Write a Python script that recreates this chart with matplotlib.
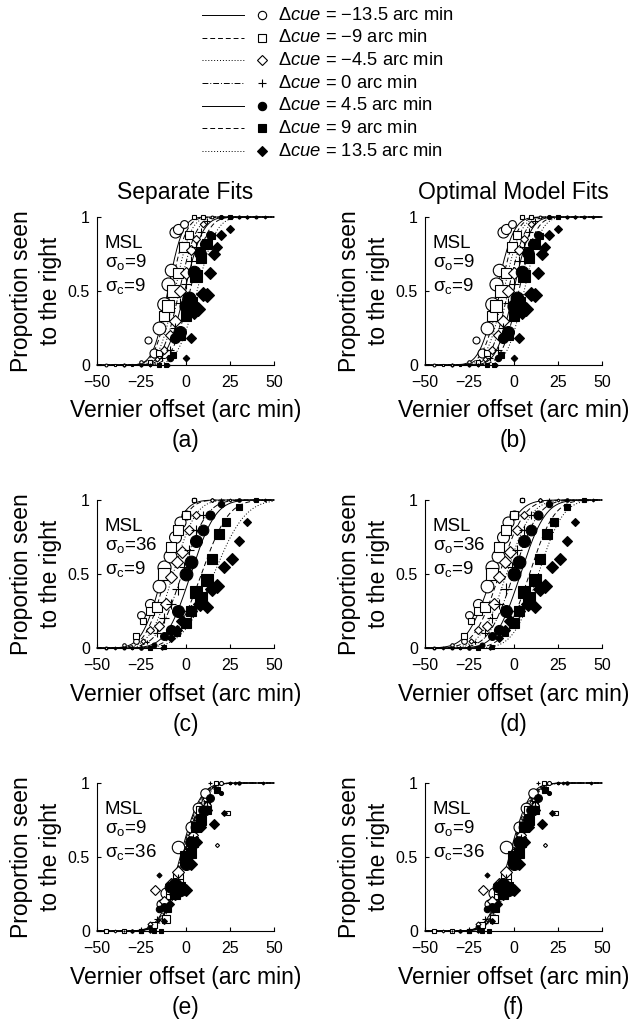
import math
import numpy as np
import matplotlib
matplotlib.use('Agg')
import matplotlib.pyplot as plt

plt.rcParams['font.family'] = ['Liberation Sans', 'DejaVu Sans']
plt.rcParams['mathtext.fontset'] = 'custom'
plt.rcParams['mathtext.rm'] = 'Liberation Sans'
plt.rcParams['mathtext.it'] = 'Liberation Sans:italic'
plt.rcParams['mathtext.default'] = 'regular'

# cue conflicts (arc min)
cues = [-13.5, -9, -4.5, 0, 4.5, 9, 13.5]
cue_txt = ['\u221213.5', '\u22129', '\u22124.5', '0', '4.5', '9', '13.5']

# ---- data, row 1 (sigma_o=9, sigma_c=9) ----
off1 = [
    [-45, -35, -25, -21, -18, -15, -12, -10, -8, -6, -4, -1, 5, 15],
    [-40, -30, -20, -15, -12, -10, -7, -4, -1, 2, 5, 10, 20],
    [-35, -25, -16, -12, -9, -6, -3, 0, 3, 6, 10, 20, 30],
    [-30, -20, -13, -9, -6, -3, 0, 3, 6, 9, 12, 20, 35],
    [-25, -15, -9, -6, -3, 0, 2, 5, 8, 11, 14, 20, 30, 40],
    [-20, -15, -11, -7, -3, 0, 3, 6, 9, 12, 15, 25, 35],
    [-10, 0, 3, 5, 7, 10, 12, 14, 16, 18, 20, 25, 35, 45],
]
prop1 = [
    [0, 0, 0.02, 0.17, 0.08, 0.25, 0.41, 0.55, 0.64, 0.9, 0.92, 0.95, 1, 1],
    [0, 0, 0.02, 0.08, 0.33, 0.4, 0.5, 0.62, 0.8, 0.88, 1, 1, 1],
    [0, 0, 0.04, 0.1, 0.2, 0.3, 0.5, 0.62, 0.78, 0.85, 0.95, 1, 1],
    [0, 0, 0.05, 0.1, 0.25, 0.42, 0.55, 0.7, 0.8, 0.9, 0.97, 1, 1],
    [0, 0, 0.05, 0.18, 0.22, 0.4, 0.45, 0.63, 0.76, 0.82, 0.88, 1, 1, 1],
    [0, 0, 0, 0.07, 0.2, 0.33, 0.42, 0.6, 0.72, 0.82, 0.87, 1, 1],
    [0, 0.05, 0.18, 0.35, 0.38, 0.48, 0.47, 0.62, 0.75, 0.8, 0.88, 0.92, 1, 1],
]
ntr1 = [
    [2, 2, 3, 12, 20, 40, 45, 42, 38, 30, 25, 15, 4, 2],
    [2, 2, 4, 12, 30, 38, 40, 35, 30, 20, 6, 3, 2],
    [2, 2, 6, 15, 25, 32, 35, 32, 25, 18, 10, 3, 2],
    [2, 3, 8, 15, 25, 30, 32, 30, 25, 18, 10, 4, 2],
    [2, 3, 10, 25, 35, 42, 40, 38, 32, 25, 15, 4, 2, 2],
    [2, 3, 5, 12, 25, 35, 40, 38, 32, 25, 15, 4, 2],
    [3, 10, 25, 35, 42, 45, 40, 38, 30, 28, 20, 12, 3, 2],
]

# ---- data, row 2 (sigma_o=36, sigma_c=9) ----
off2 = [
    [-45, -35, -28, -25, -20, -15, -12, -9, -6, -3, 0, 5, 15],
    [-45, -35, -28, -24, -20, -16, -12, -8, -4, 0, 5, 15],
    [-40, -30, -24, -20, -15, -11, -8, -5, -2, 2, 6, 15, 25],
    [-40, -30, -22, -16, -12, -8, -4, -1, 2, 6, 10, 20, 30],
    [-35, -25, -18, -12, -8, -4, 0, 3, 6, 10, 14, 20, 30, 40],
    [-30, -20, -12, -5, 0, 3, 6, 9, 12, 15, 19, 23, 30, 40],
    [-20, -13, -8, -5, -2, 3, 8, 12, 15, 18, 22, 26, 30, 35, 45],
]
prop2 = [
    [0, 0.02, 0.05, 0.22, 0.3, 0.42, 0.55, 0.62, 0.75, 0.85, 0.9, 1, 1],
    [0, 0, 0.08, 0.18, 0.25, 0.28, 0.5, 0.68, 0.8, 0.9, 1, 1],
    [0, 0, 0.05, 0.12, 0.15, 0.3, 0.48, 0.58, 0.65, 0.8, 0.9, 1, 1],
    [0, 0, 0.04, 0.1, 0.2, 0.3, 0.4, 0.55, 0.66, 0.8, 0.9, 1, 1],
    [0, 0, 0.02, 0.08, 0.12, 0.25, 0.5, 0.58, 0.72, 0.8, 0.9, 0.97, 1, 1],
    [0, 0, 0.01, 0.1, 0.17, 0.25, 0.38, 0.34, 0.46, 0.6, 0.77, 0.85, 0.95, 1],
    [0, 0, 0.07, 0.12, 0.18, 0.25, 0.3, 0.28, 0.4, 0.42, 0.55, 0.6, 0.72, 0.85, 1],
]
ntr2 = [
    [2, 3, 8, 15, 25, 40, 42, 40, 35, 30, 20, 5, 2],
    [2, 2, 8, 15, 22, 35, 38, 35, 30, 20, 5, 2],
    [2, 2, 6, 15, 28, 35, 38, 35, 30, 25, 15, 4, 2],
    [2, 2, 6, 15, 25, 32, 35, 32, 28, 22, 15, 4, 2],
    [2, 3, 6, 15, 25, 35, 40, 40, 35, 28, 20, 10, 3, 2],
    [2, 3, 6, 12, 25, 35, 40, 42, 40, 35, 30, 22, 10, 3],
    [2, 3, 15, 25, 35, 38, 40, 30, 42, 40, 38, 35, 25, 12, 2],
]

# ---- data, row 3 (sigma_o=9, sigma_c=36) ----
off3 = [
    [-45, -30, -20, -14, -11, -7, -4, 0, 3, 7, 11, 20, 30],
    [-45, -35, -25, -18, -11, -8, -4, 0, 4, 8, 12, 17, 24, 30],
    [-40, -30, -20, -17, -12, -8, -4, 0, 4, 8, 12, 18, 25],
    [-35, -25, -16, -12, -8, -4, 0, 4, 8, 12, 14, 25],
    [-30, -20, -15, -12, -9, -6, -3, 0, 3, 6, 10, 14, 20, 30],
    [-25, -18, -14, -10, -6, -3, 0, 3, 6, 9, 12, 18, 25],
    [-20, -15, -12, -9, -6, -3, 0, 3, 6, 9, 12, 16, 22, 28, 44],
]
prop3 = [
    [0, 0, 0.03, 0.18, 0.26, 0.3, 0.57, 0.5, 0.7, 0.83, 0.93, 1, 1],
    [0, 0, 0, 0.04, 0.08, 0.25, 0.35, 0.5, 0.6, 0.82, 0.85, 1, 0.8, 1],
    [0, 0, 0.05, 0.28, 0.2, 0.32, 0.4, 0.52, 0.65, 0.75, 0.85, 0.58, 1],
    [0, 0, 0.08, 0.15, 0.25, 0.35, 0.5, 0.62, 0.75, 0.88, 1, 1],
    [0, 0.03, 0.15, 0.16, 0.3, 0.32, 0.28, 0.45, 0.6, 0.7, 0.82, 0.9, 0.93, 1],
    [0, 0, 0, 0.15, 0.25, 0.3, 0.5, 0.53, 0.7, 0.75, 0.82, 0.95, 1],
    [0, 0.38, 0.07, 0.18, 0.25, 0.3, 0.28, 0.45, 0.6, 0.7, 0.82, 0.72, 0.8, 1, 1],
]
ntr3 = [
    [2, 2, 6, 20, 30, 35, 38, 35, 30, 28, 22, 4, 2],
    [3, 3, 3, 8, 18, 28, 32, 30, 28, 22, 15, 4, 6, 2],
    [2, 2, 6, 20, 25, 30, 32, 30, 28, 22, 15, 4, 2],
    [2, 2, 8, 15, 22, 28, 30, 28, 22, 15, 4, 2],
    [2, 3, 10, 15, 28, 35, 38, 35, 32, 28, 22, 15, 4, 2],
    [3, 3, 4, 10, 25, 35, 38, 35, 32, 28, 22, 10, 2],
    [3, 6, 8, 18, 30, 35, 38, 35, 30, 28, 25, 20, 8, 2, 2],
]

# fitted cumulative gaussians: means and sds per cue
mu_sep = [[-10, -8.5, -6, -3.5, -0.5, 2.5, 6.5],
          [-13, -11, -7, -2, 3, 9, 16],
          [-3, -1.5, -2, -2.5, -1, -1, 0]]
sd_sep = [[6.5, 7, 7, 7.5, 8, 8, 8.5],
          [9, 9, 10, 11, 11, 12, 14],
          [9, 9, 9, 9, 9, 9, 9]]
mu_opt = [[-9.5, -7.5, -5.5, -3, 0, 3, 6],
          [-12, -8, -4, 0, 4, 9, 14],
          [-2.5, -2, -1.5, -1, -0.5, 0, 0.5]]
sd_opt = [[7.5] * 7, [11] * 7, [9] * 7]

sig_o = ['9', '36', '9']
sig_c = ['9', '9', '36']
letters = [['(a)', '(b)'], ['(c)', '(d)'], ['(e)', '(f)']]

offs = [off1, off2, off3]
props = [prop1, prop2, prop3]
ntrs = [ntr1, ntr2, ntr3]

# styles
mk = ['o', 's', 'D', '+', 'o', 's', 'D']
fill = ['white', 'white', 'white', 'none', 'black', 'black', 'black']
ls = ['-', (0, (5, 3)), (0, (1, 2)), (0, (6, 2, 1, 2)), '-', (0, (5, 3)), (0, (1, 2))]
mscale = {'o': 1.45, 's': 1.3, 'D': 1.05, '+': 1.4}

W, H = 633, 1021
fig = plt.figure(figsize=(W / 100, H / 100), dpi=100)

col_left = [97, 425]
row_bot = [365, 648, 931]
aw, ah = 177, 148
fs_lab = 16.5

xx = np.linspace(-50, 50, 400)


def cdf(x, m, s):
    return np.array([0.5 * (1 + math.erf((v - m) / (s * math.sqrt(2)))) for v in x])


for r in range(3):
    for c in range(2):
        ax = fig.add_axes([col_left[c] / W, 1 - row_bot[r] / H, aw / W, ah / H])
        mus = mu_sep[r] if c == 0 else mu_opt[r]
        sds = sd_sep[r] if c == 0 else sd_opt[r]
        for k in range(7):
            ax.plot(xx, cdf(xx, mus[k], sds[k]), color='black', lw=0.7,
                    linestyle=ls[k], zorder=2, clip_on=False)
        for k in range(7):
            for x, p, n in zip(offs[r][k], props[r][k], ntrs[r][k]):
                ax.plot(x, p, marker=mk[k], ms=mscale[mk[k]] * math.sqrt(n),
                        mfc=fill[k], mec='black', mew=0.8, ls='none',
                        zorder=3, clip_on=False)
        ax.set_xlim(-50, 50)
        ax.set_ylim(0, 1)
        ax.spines['top'].set_visible(False)
        ax.spines['right'].set_visible(False)
        for sp in ['left', 'bottom']:
            ax.spines[sp].set_linewidth(0.8)
        ax.set_xticks([-50, -25, 0, 25, 50])
        ax.set_xticklabels(['\u221250', '\u221225', '0', '25', '50'])
        ax.set_yticks([0, 0.5, 1])
        ax.set_yticklabels(['0', '0.5', '1'])
        ax.tick_params(direction='in', length=3, width=0.8, labelsize=11.5)
        ax.tick_params(axis='x', pad=7)
        ax.tick_params(axis='y', pad=5)
        ax.text(8 / aw, 0.79, 'MSL', transform=ax.transAxes, fontsize=13.5,
                va='baseline', ha='left')
        ax.text(8 / aw, 0.66, r'$\sigma_{o}$=' + sig_o[r], transform=ax.transAxes,
                fontsize=13.5, va='baseline', ha='left')
        ax.text(8 / aw, 0.50, r'$\sigma_{c}$=' + sig_c[r], transform=ax.transAxes,
                fontsize=13.5, va='baseline', ha='left')
        ax.text(0.5, -46 / ah, 'Vernier offset (arc min)', transform=ax.transAxes,
                fontsize=fs_lab, ha='center', va='center')
        ax.text(0.5, -76 / ah, letters[r][c], transform=ax.transAxes,
                fontsize=fs_lab, ha='center', va='center')
        ax.text(-61 / aw, 0.5, 'Proportion seen\nto the right', transform=ax.transAxes,
                fontsize=fs_lab, ha='center', va='center', rotation=90, linespacing=1.35)
        if r == 0:
            ax.text(0.5, 1 + 24 / ah, ['Separate Fits', 'Optimal Model Fits'][c],
                    transform=ax.transAxes, fontsize=fs_lab, ha='center', va='center')

# legend block (pixel layout)
lax = fig.add_axes([0, 0, 1, 1])
lax.set_xlim(0, W)
lax.set_ylim(H, 0)
lax.axis('off')
for k in range(7):
    yk = 15 + 22.7 * k
    lax.plot([202, 244], [yk, yk], color='black', lw=0.7, linestyle=ls[k])
    lax.plot(262, yk, marker=mk[k], ms=6 if mk[k] != 'D' else 5,
             mfc=fill[k], mec='black', mew=0.8, ls='none')
    lax.text(278, yk, r'$\Delta\mathit{cue}$ = ' + cue_txt[k] + ' arc min',
             fontsize=13.2, va='center', ha='left')

fig.savefig('out.png', dpi=100)
